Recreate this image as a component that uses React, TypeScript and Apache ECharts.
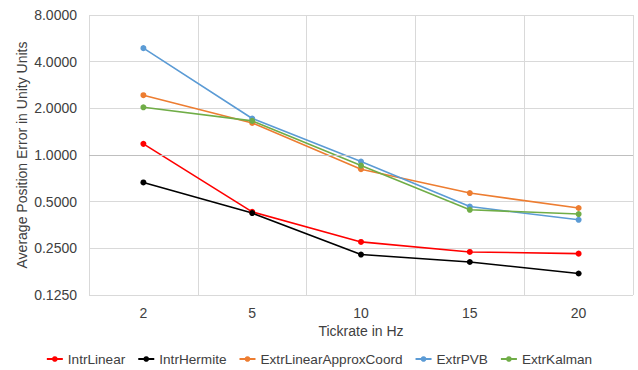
import React, { useEffect, useRef } from "react";
import * as echarts from "echarts";

const categories = ["2", "5", "10", "15", "20"];
const intrLinear = [1.18, 0.43, 0.275, 0.237, 0.231];
const intrHermite = [0.665, 0.422, 0.228, 0.204, 0.172];
const extrLinearApproxCoord = [2.43, 1.61, 0.81, 0.568, 0.455];
const extrPVB = [4.89, 1.72, 0.907, 0.465, 0.382];
const extrKalman = [2.03, 1.66, 0.855, 0.443, 0.416];

const seriesNames = ["IntrLinear", "IntrHermite", "ExtrLinearApproxCoord", "ExtrPVB", "ExtrKalman"];
const seriesData = [intrLinear, intrHermite, extrLinearApproxCoord, extrPVB, extrKalman];
const colors = ["#FF0000", "#000000", "#ED7D31", "#5B9BD5", "#70AD47"];

export default function App() {
  const ref = useRef<HTMLDivElement>(null);
  useEffect(() => {
    document.body.style.margin = "0";
    const chart = echarts.init(ref.current!, null, { renderer: "svg" });
    const font = "Liberation Sans, Arial, sans-serif";
    chart.setOption({
      animation: false,
      textStyle: { fontFamily: font },
      grid: { left: 89, right: 5, top: 15, bottom: 75, containLabel: false },
      xAxis: {
        type: "category",
        data: categories,
        boundaryGap: true,
        name: "Tickrate in Hz",
        nameLocation: "middle",
        nameGap: 29,
        nameMoveOverlap: false,
        nameTextStyle: { color: "#404040", fontSize: 14, fontFamily: font },
        axisLine: { show: false },
        axisTick: { show: false },
        axisLabel: { color: "#404040", fontSize: 14, margin: 11, fontFamily: font },
        splitLine: { show: true, lineStyle: { color: "#D9D9D9", width: 1 } },
      },
      yAxis: {
        type: "log",
        logBase: 2,
        min: 0.125,
        max: 8,
        name: "Average Position Error in Unity Units",
        nameLocation: "middle",
        nameGap: 60,
        nameMoveOverlap: false,
        nameTextStyle: { color: "#404040", fontSize: 14, fontFamily: font },
        axisLine: { show: false },
        axisTick: { show: false },
        axisLabel: {
          color: "#404040",
          fontSize: 14,
          margin: 12,
          fontFamily: font,
          formatter: (v: number) => v.toFixed(4),
        },
        splitLine: { show: true, lineStyle: { color: "#D9D9D9", width: 1 } },
      },
      legend: {
        top: 352,
        padding: 0,
        left: "center",
        itemWidth: 16,
        itemHeight: 7,
        itemGap: 12,
        textStyle: { color: "#404040", fontSize: 13.6, fontFamily: font },
        data: seriesNames,
      },
      series: seriesNames.map((name, i) => ({
        name,
        type: "line",
        data: seriesData[i],
        symbol: "circle",
        symbolSize: 6,
        color: colors[i],
        lineStyle: { width: 1.6, color: colors[i] },
        itemStyle: { color: colors[i] },
        markLine:
          i === 0
            ? {
                silent: true,
                symbol: "none",
                label: { show: false },
                lineStyle: { color: "#BFBFBF", type: "solid", width: 1 },
                data: [{ yAxis: 1 }],
              }
            : undefined,
      })),
    });
    return () => chart.dispose();
  }, []);
  return <div ref={ref} style={{ width: 638, height: 370 }} />;
}
